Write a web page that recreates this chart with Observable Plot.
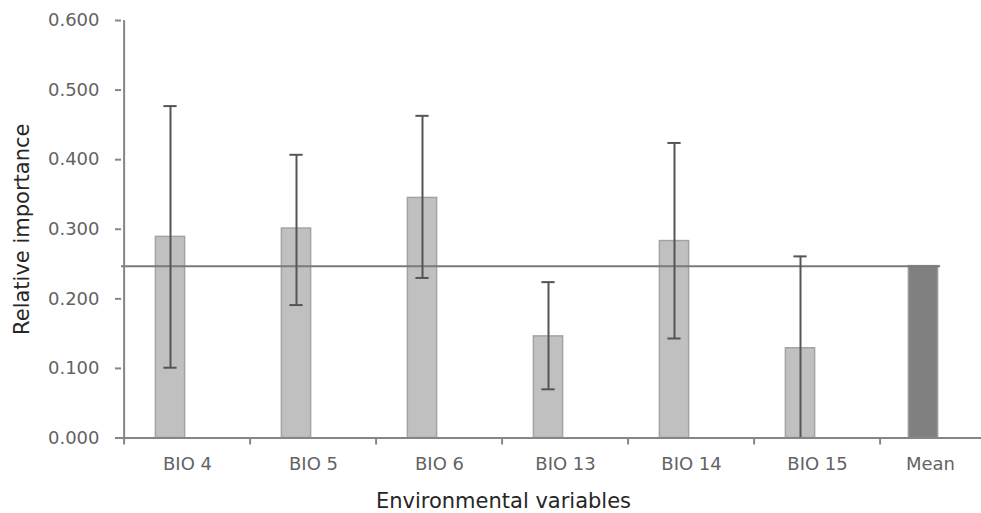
<!DOCTYPE html>
<html><head><meta charset="utf-8">
<script src="https://cdn.jsdelivr.net/npm/d3@7"></script>
<script src="https://cdn.jsdelivr.net/npm/@observablehq/plot@0.6"></script>
<style>body{margin:0;background:#fff}</style>
</head><body><div id="chart"></div>
<script>
const categories = ["BIO 4", "BIO 5", "BIO 6", "BIO 13", "BIO 14", "BIO 15", "Mean"];
const values = [0.289, 0.301, 0.345, 0.146, 0.283, 0.129, 0.247];
const errLow = [0.101, 0.191, 0.230, 0.070, 0.143, 0.000, null];
const errHigh = [0.477, 0.407, 0.463, 0.224, 0.424, 0.261, null];
const meanValue = 0.247;
const yTicks = [0, 0.1, 0.2, 0.3, 0.4, 0.5, 0.6];

const data = categories.map((c, i) => ({cat: c, value: values[i], lo: errLow[i], hi: errHigh[i]}));
const varData = data.filter(d => d.cat !== "Mean");
const meanData = data.filter(d => d.cat === "Mean");
const errData = data.filter(d => d.lo != null);

const W = 981, H = 513, mL = 121, mR = -27.5, mT = 20, mB = 75.5;
const bw = (W - mR - mL) / categories.length;
const off = -17, offMean = -20;
const barW = 30, capW = 14;
const barInset = (bw - barW) / 2, capInset = (bw - capW) / 2;
const axisColor = "#868686", textColor = "#636363", titleColor = "#262626", errColor = "#555555";
const font = "'DejaVu Sans', sans-serif";

const chart = Plot.plot({
  width: W, height: H,
  marginLeft: mL, marginRight: mR, marginTop: mT, marginBottom: mB,
  style: {fontFamily: font, fontSize: "18px", color: textColor, background: "#fff", overflow: "visible"},
  x: {type: "band", domain: categories, padding: 0, axis: null},
  y: {domain: [0, 0.6], axis: null},
  marks: [
    Plot.barY(varData, {x: "cat", y: "value", fill: "#c0c0c0", stroke: "#a3a3a3", strokeWidth: 1.5, insetLeft: barInset, insetRight: barInset, dx: off}),
    Plot.barY(meanData, {x: "cat", y: "value", fill: "#808080", stroke: "#9a9a9a", strokeWidth: 1.5, insetLeft: barInset, insetRight: barInset, dx: offMean}),
    Plot.ruleY([meanValue], {stroke: "#7a7a7a", strokeWidth: 2, insetRight: bw / 2 - offMean - barW / 2}),
    Plot.ruleX(errData, {x: "cat", y1: "lo", y2: "hi", dx: off, stroke: errColor, strokeWidth: 2}),
    Plot.tickY(errData, {x: "cat", y: "hi", dx: off, insetLeft: capInset, insetRight: capInset, stroke: errColor, strokeWidth: 2}),
    Plot.tickY(errData, {x: "cat", y: "lo", dx: off, insetLeft: capInset, insetRight: capInset, stroke: errColor, strokeWidth: 2}),
    // axis lines
    Plot.ruleY([0], {stroke: axisColor, strokeWidth: 2}),
    Plot.ruleX([categories[0]], {x: d => d, dx: -bw / 2, y1: 0, y2: 0.6, stroke: axisColor, strokeWidth: 2}),
    // y axis
    Plot.axisY({ticks: yTicks, tickFormat: d3.format(".3f"), tickSize: 6, tickPadding: 16, stroke: axisColor, strokeWidth: 2, fill: textColor, fontSize: 18, label: null}),
    // x boundary ticks
    Plot.axisX({ticks: categories, tickSize: 7, tickFormat: () => "", dx: -bw / 2, stroke: axisColor, strokeWidth: 2, label: null}),
    // x labels
    Plot.axisX({ticks: categories.slice(0, 6), tickSize: 0, tickPadding: 19, fill: textColor, fontSize: 18, label: null}),
    Plot.axisX({ticks: ["Mean"], tickSize: 0, tickPadding: 19, dx: -13, fill: textColor, fontSize: 18, label: null}),
    // titles
    Plot.text(["Relative importance"], {frameAnchor: "left", textAnchor: "middle", lineAnchor: "middle", dx: -99, rotate: -90, fill: titleColor, fontSize: 21}),
    Plot.text(["Environmental variables"], {frameAnchor: "bottom", textAnchor: "middle", lineAnchor: "middle", dx: 503 - (mL + (W - mR)) / 2, dy: 63, fill: titleColor, fontSize: 21})
  ]
});
document.getElementById("chart").appendChild(chart);
</script>
</body></html>
